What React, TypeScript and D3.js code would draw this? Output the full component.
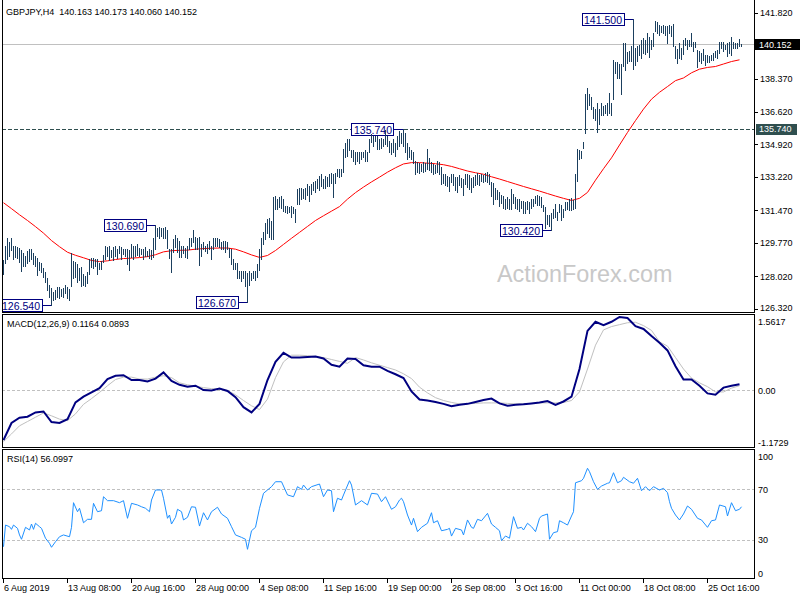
import React from 'react';
import * as d3 from 'd3';

// ---------- data ----------
const symbolTitle = 'GBPJPY,H4  140.163 140.173 140.060 140.152';
const macdTitle = 'MACD(12,26,9) 0.1164 0.0893';
const rsiTitle = 'RSI(14) 56.0997';
const watermark = 'ActionForex.com';

const barHigh = [
128.85,129.60,130.05,129.80,130.00,129.60,129.60,129.55,129.50,129.40,
129.25,129.10,129.35,129.45,129.45,129.25,129.10,129.00,128.75,128.70,
128.45,128.25,127.95,127.55,127.40,127.20,127.30,127.45,127.45,127.35,
127.40,127.55,127.45,127.35,129.25,128.80,128.75,128.65,128.45,128.50,
128.15,128.05,128.25,128.90,129.00,129.00,128.95,128.90,128.70,128.80,
129.15,129.60,129.55,129.60,129.40,129.55,129.60,129.45,129.60,129.55,
129.45,129.45,129.45,129.40,129.70,129.60,129.60,129.70,129.50,129.45,
129.45,129.55,129.35,129.45,129.40,130.05,130.69,130.55,130.60,130.55,
130.55,130.60,130.45,129.45,129.45,129.95,130.20,130.00,129.85,129.60,
129.60,129.50,129.60,130.05,130.05,130.45,130.10,130.00,130.10,129.70,
129.80,129.60,129.70,129.85,129.60,130.05,130.05,130.05,129.95,129.80,
129.85,129.85,129.80,129.50,129.45,128.90,128.70,128.70,128.30,128.30,
128.30,128.30,128.20,128.30,128.20,128.30,128.30,128.65,129.45,130.05,
130.35,130.80,131.00,131.05,130.90,132.15,132.20,132.05,132.15,132.20,
132.05,131.70,131.70,131.65,131.70,131.65,131.52,132.57,132.65,132.65,
132.60,132.65,132.85,132.75,132.85,132.95,133.00,133.10,133.25,133.35,
133.10,133.25,133.20,133.35,133.45,133.35,133.45,133.61,133.61,133.61,
134.66,135.02,135.22,135.20,134.65,134.65,134.50,134.55,134.50,134.55,
134.55,134.65,134.55,135.20,135.45,135.35,135.35,135.35,135.20,135.25,
135.20,135.70,135.35,135.10,135.00,135.20,135.00,135.35,135.60,135.50,
135.74,135.50,135.00,134.80,134.65,134.55,134.05,134.00,133.95,133.90,
134.00,133.95,134.66,134.20,134.00,133.90,133.85,134.05,134.00,133.75,
133.40,133.35,133.25,133.20,133.40,133.35,133.20,133.20,133.30,133.15,
133.10,133.35,133.35,133.30,133.15,133.20,133.30,133.45,133.30,133.35,
133.30,133.45,133.50,133.35,132.95,132.90,132.65,132.55,132.45,132.30,
132.20,132.05,132.15,132.05,132.60,132.35,132.15,132.05,132.05,131.95,
131.95,131.90,131.95,131.90,132.05,132.05,132.20,132.30,132.20,132.15,
131.75,131.65,131.25,131.25,131.35,131.55,131.80,131.40,131.80,131.75,
131.55,131.90,131.90,132.05,132.10,132.00,133.40,134.70,134.65,134.60,
135.05,137.55,137.90,137.55,137.40,136.90,136.75,137.10,136.80,137.10,
136.95,137.00,137.10,137.60,137.10,139.36,139.25,139.25,139.15,139.15,
140.25,140.25,139.75,139.80,140.05,141.50,139.95,140.05,140.15,140.40,
140.50,140.40,140.75,140.55,140.40,140.75,141.40,141.35,141.15,141.10,
141.15,141.10,141.10,141.15,141.10,141.20,140.05,139.90,140.25,139.95,
140.40,140.50,140.40,140.40,140.75,140.30,140.30,139.88,139.80,139.70,
139.90,139.60,139.60,139.55,139.60,139.70,139.80,139.85,140.30,140.30,
140.30,140.15,140.25,140.30,140.55,140.30,140.25,140.25,140.45,140.17
];

const barLow = [
128.15,128.70,128.95,129.10,129.40,128.95,129.05,129.00,128.75,128.30,
128.55,128.55,128.70,128.80,128.90,128.65,128.55,128.10,128.35,128.25,
128.00,127.70,127.30,126.95,126.54,126.80,126.85,126.95,126.90,127.00,
126.95,127.15,126.90,126.80,127.50,127.95,128.00,127.70,127.85,127.50,
127.55,127.50,127.65,128.15,128.50,128.45,128.55,128.15,128.40,128.40,
128.75,128.90,129.10,128.85,129.05,128.85,129.10,129.00,129.25,128.90,
129.20,129.10,128.65,128.35,129.05,128.90,129.10,129.15,129.10,129.20,
128.90,129.10,129.10,129.00,128.95,129.05,129.45,130.15,130.05,130.15,
130.00,130.05,129.50,129.00,128.25,129.30,129.55,129.30,129.05,129.05,
129.25,129.05,129.00,129.45,129.60,129.80,129.45,129.45,128.60,129.10,
129.45,129.35,129.25,129.45,128.95,129.45,129.60,129.60,129.55,129.45,
129.45,129.30,129.45,129.05,128.65,128.40,128.40,127.95,127.95,127.80,
127.95,127.50,126.67,127.55,127.85,127.95,127.85,128.00,128.35,128.90,
129.70,129.95,130.30,130.10,129.95,129.95,131.52,131.55,131.65,131.60,
131.45,131.40,131.35,131.40,131.15,131.35,130.85,131.78,131.80,132.05,
132.10,132.05,132.30,131.95,132.35,132.55,132.45,132.65,132.55,132.75,
132.65,132.65,132.75,132.75,132.90,132.15,132.90,133.25,133.20,133.25,
133.50,134.25,134.30,134.65,134.25,134.05,133.90,134.05,133.95,134.15,
134.25,134.05,134.05,134.50,135.05,134.85,135.10,134.66,134.66,134.75,
134.85,134.92,134.85,134.50,134.40,134.50,134.30,134.66,134.85,135.00,
134.85,134.55,134.15,134.25,134.15,133.95,133.35,133.50,133.45,133.55,
133.50,133.55,133.65,133.60,133.50,133.40,133.45,133.50,133.35,132.85,
132.90,132.80,132.75,132.50,132.95,132.80,132.55,132.45,132.80,132.70,
132.30,132.85,132.70,132.60,132.45,132.70,132.80,132.85,132.80,133.00,
132.95,133.00,132.95,132.85,132.20,131.80,132.05,132.05,131.70,131.85,
131.60,131.55,131.60,131.55,131.52,131.85,131.60,131.55,131.45,131.60,
131.35,131.35,131.55,131.35,131.60,131.70,131.85,131.75,131.75,131.65,
131.45,130.55,130.75,130.65,130.42,131.05,131.10,130.95,131.40,130.95,
131.15,131.50,131.55,131.50,131.50,131.55,131.60,133.00,134.15,134.20,
134.75,135.50,136.75,137.00,136.75,136.30,136.20,135.55,136.00,136.45,
136.45,136.55,136.45,136.55,136.45,137.30,138.65,138.40,138.40,137.55,
139.05,138.80,139.20,139.30,139.30,138.85,139.10,139.30,139.60,139.45,
139.70,139.65,139.75,139.50,139.90,140.05,140.85,140.75,140.65,140.80,
140.75,140.65,140.25,140.75,140.60,140.05,139.45,139.20,139.45,139.40,
139.65,140.15,139.90,140.05,140.05,139.80,140.00,138.95,139.30,139.20,
139.35,139.10,139.25,139.25,139.35,139.35,139.50,139.45,139.70,139.95,
139.80,139.90,139.55,139.70,139.60,139.95,139.95,139.95,140.05,140.06
];

// indicator values sampled every 4 bars (bar 0, 4, 8, ...)
const sampleStep = 4;
const maValues = [
131.87,131.56,131.24,130.94,130.62,130.28,129.89,129.57,129.28,129.12,
128.99,128.85,128.79,128.83,128.90,128.95,128.97,129.00,129.05,129.15,
129.30,129.36,129.38,129.39,129.44,129.47,129.49,129.50,129.50,129.44,
129.30,129.14,129.01,129.11,129.37,129.69,130.01,130.32,130.63,130.94,
131.19,131.43,131.67,132.06,132.40,132.69,132.96,133.21,133.47,133.70,
133.90,133.97,133.97,133.94,133.91,133.86,133.77,133.65,133.53,133.44,
133.36,133.23,133.11,132.98,132.85,132.72,132.60,132.48,132.35,132.22,
132.10,131.99,132.10,132.41,133.05,133.65,134.22,134.89,135.55,136.17,
136.77,137.29,137.65,137.95,138.26,138.40,138.67,138.86,138.95,139.00,
139.13,139.26,139.35
];

const macdValues = [
-1.05,-0.69,-0.58,-0.56,-0.47,-0.45,-0.67,-0.69,-0.61,-0.26,
-0.14,-0.05,0.04,0.23,0.30,0.31,0.21,0.21,0.18,0.24,
0.37,0.19,0.11,0.07,0.09,0.00,-0.01,0.03,-0.02,-0.15,
-0.36,-0.47,-0.29,0.21,0.59,0.78,0.68,0.68,0.69,0.70,
0.66,0.53,0.49,0.66,0.65,0.52,0.49,0.49,0.40,0.33,
0.25,-0.03,-0.20,-0.22,-0.25,-0.29,-0.34,-0.31,-0.29,-0.25,
-0.21,-0.18,-0.28,-0.33,-0.31,-0.30,-0.28,-0.26,-0.23,-0.31,
-0.24,-0.14,0.44,1.24,1.43,1.36,1.43,1.53,1.51,1.34,
1.28,1.13,0.99,0.83,0.50,0.22,0.22,0.09,-0.07,-0.10,
0.05,0.09,0.12
];

const signalValues = [
-1.08,-0.92,-0.75,-0.66,-0.57,-0.48,-0.54,-0.61,-0.64,-0.50,
-0.30,-0.18,-0.05,0.09,0.22,0.27,0.27,0.23,0.23,0.27,
0.30,0.26,0.15,0.11,0.08,0.05,0.03,0.02,-0.01,-0.10,
-0.22,-0.33,-0.41,-0.19,0.26,0.59,0.73,0.73,0.72,0.70,
0.68,0.64,0.60,0.56,0.68,0.63,0.57,0.52,0.47,0.42,
0.34,0.24,0.06,-0.06,-0.16,-0.22,-0.26,-0.29,-0.29,-0.28,
-0.27,-0.27,-0.27,-0.28,-0.29,-0.29,-0.28,-0.27,-0.27,-0.27,
-0.26,-0.22,-0.04,0.44,0.94,1.26,1.33,1.37,1.41,1.42,
1.35,1.25,1.01,0.92,0.68,0.44,0.25,0.15,0.07,-0.04,
-0.04,0.04,0.09
];

const rsiBars = [
0,1,3,4,5,7,8,9,11,13,14,15,16,18,19,21,23,24,26,28,
30,33,34,35,37,38,40,42,44,45,47,49,50,52,55,58,60,62,64,67,
69,71,73,74,76,79,80,82,83,84,86,87,89,90,92,94,96,98,100,102,
104,107,109,112,114,116,119,121,122,124,126,128,130,132,134,136,139,142,145,147,
149,150,152,154,158,160,162,164,165,167,169,170,173,174,176,179,182,184,187,189,
191,194,196,198,199,200,202,204,205,207,209,212,214,215,217,219,222,223,224,226,
229,230,232,234,235,237,239,242,244,246,248,249,251,253,255,257,259,260,262,264,
266,268,269,272,273,275,277,278,280,282,284,285,286,289,290,292,293,295,297,299,
302,303,305,307,309,310,313,315,317,319,321,323,325,328,330,332,333,334,336,338,
340,342,344,347,349,352,354,356,358,361,362,364,366,368,369
];
const rsiValues = [
24.6,41.7,40.4,38.3,41.7,39.1,33.9,30.5,39.9,37.8,42.5,38.3,43.1,40.4,39.1,31.3,27.3,24.2,28.6,32.5,
33.9,32.5,39.9,59.3,52.2,54.9,43.5,46.2,46.2,58.8,52.2,53.0,64.0,60.9,60.9,59.3,60.9,47.0,58.8,57.5,
56.1,54.9,52.2,61.4,69.3,69.3,62.8,47.0,49.6,42.5,47.8,54.1,52.2,45.7,47.8,56.1,55.7,40.9,51.4,45.7,
52.2,55.7,50.4,47.0,40.4,33.9,32.0,30.5,22.6,37.2,39.9,54.9,66.7,69.3,71.9,75.8,75.8,65.4,64.0,71.9,
69.8,73.2,69.3,71.9,74.0,64.0,69.3,68.7,52.2,62.8,61.4,65.4,76.6,73.2,57.5,60.9,57.5,66.7,66.1,60.1,
64.0,54.1,56.1,61.4,62.8,60.1,49.6,41.7,47.0,36.5,39.9,43.1,51.4,43.5,45.1,37.2,38.3,39.1,33.0,39.1,
37.8,33.9,45.7,39.9,39.1,46.2,45.1,50.9,42.5,39.9,37.2,29.4,33.1,31.3,48.3,39.1,39.9,37.8,43.1,40.4,
36.5,47.0,48.8,50.4,30.5,35.7,36.5,45.1,43.5,41.7,48.8,52.2,75.0,76.6,78.5,86.4,83.7,75.8,69.8,72.4,
74.6,75.0,82.9,75.0,76.6,79.3,75.8,74.6,78.5,68.7,71.9,68.7,71.9,69.3,70.6,67.2,60.1,54.9,49.6,45.7,
50.4,56.7,54.1,47.0,45.7,39.9,45.1,45.7,57.5,56.1,48.8,59.3,53.0,54.1,56.1
];

const priceTicks = [141.82, 138.37, 136.62, 134.92, 133.22, 131.47, 129.77, 128.02, 126.32];
const priceTickLabels = ['141.820', '138.370', '136.620', '134.920', '133.220', '131.470', '129.770', '128.020', '126.320'];
const currentPrice = 140.152;
const currentPriceLabel = '140.152';
const levelPrice = 135.74;
const levelPriceLabel = '135.740';

const markerPrices = [141.5, 135.74, 130.69, 130.42, 126.54, 126.67];
const markerLabels = ['141.500', '135.740', '130.690', '130.420', '126.540', '126.670'];
const markerBars = [315, 200, 76, 274, 24, 122];

const dateBars = [0, 32, 64, 96, 128, 160, 192, 224, 256, 288, 320, 352];
const dateLabels = ['6 Aug 2019', '13 Aug 08:00', '20 Aug 16:00', '28 Aug 00:00', '4 Sep 08:00', '11 Sep 16:00',
  '19 Sep 00:00', '26 Sep 08:00', '3 Oct 16:00', '11 Oct 00:00', '18 Oct 08:00', '25 Oct 16:00'];

const macdMax = 1.5617;
const macdMin = -1.1729;
const macdAxisLabels = ['1.5617', '0.00', '-1.1729'];
const rsiLevels = [100, 70, 30, 0];
const rsiLevelLabels = ['100', '70', '30', '0'];

// ---------- layout ----------
const W = 800;
const H = 600;
const L = 2;
const R = 754;
const mainBottom = 312;
const macdTop = 314;
const macdBottom = 447;
const rsiTop = 449;
const rsiBottom = 578;
const FONT = '"Liberation Sans", Arial, sans-serif';
const barColor = '#1b3f5e';

export default function App() {
  const x = d3.scaleLinear().domain([0, 369]).range([3, 741]);
  const yP = d3.scaleLinear().domain([126.32, 141.82]).range([308.8, 12.6]);
  const yM = d3.scaleLinear().domain([macdMin, macdMax]).range([446, 315.5]);
  const yR = d3.scaleLinear().domain([0, 100]).range([578, 451]);

  const maLine = d3.line<number>().x((_, i) => x(i * sampleStep) + 0.5).y((d) => yP(d));
  const macdLine = d3.line<number>().x((_, i) => x(i * sampleStep) + 0.5).y((d) => yM(d));
  const rsiLine = d3.line<number>().x((_, i) => x(rsiBars[i]) + 0.5).y((d) => yR(d));

  const axisBaseline = (y: number, top: number, bottom: number) =>
    Math.min(Math.max(y + 3.5, top + 10.5), bottom - 1.5);

  return (
    <svg width={W} height={H} style={{ position: 'absolute', left: 0, top: 0, background: '#fff' }}
      fontFamily={FONT}>
      <rect x={0} y={0} width={W} height={H} fill="#fff" />

      <defs>
        <clipPath id="mainClip"><rect x={L + 1} y={0} width={R - L - 1} height={mainBottom} /></clipPath>
        <clipPath id="macdClip"><rect x={L + 1} y={macdTop + 1} width={R - L - 1} height={macdBottom - macdTop - 1} /></clipPath>
        <clipPath id="rsiClip"><rect x={L + 1} y={rsiTop + 1} width={R - L - 1} height={rsiBottom - rsiTop - 1} /></clipPath>
      </defs>

      {/* ---------- main panel ---------- */}
      <g clipPath="url(#mainClip)">
        <text x={497} y={282} fontSize={23.4} fill="#c8c8c8">{watermark}</text>
        <line x1={L} x2={R} y1={Math.round(yP(currentPrice)) + 0.5} y2={Math.round(yP(currentPrice)) + 0.5}
          stroke="#c0c0c0" strokeWidth={1} shapeRendering="crispEdges" />
        <line x1={L} x2={R} y1={Math.round(yP(levelPrice)) + 0.5} y2={Math.round(yP(levelPrice)) + 0.5}
          stroke="#2f4f4f" strokeWidth={1} strokeDasharray="4,2" shapeRendering="crispEdges" />
        <path d={maLine(maValues) || ''} fill="none" stroke="#ff0000" strokeWidth={1} />
        {markerPrices.map((p, i) => {
          const bx = x(markerBars[i]) + 0.5;
          const yc = Math.round(yP(p)) + 0.5;
          const x1 = bx - 10;
          const x0 = x1 - 42;
          return (
            <g key={'m' + i}>
              <line x1={x1} x2={bx} y1={yc} y2={yc} stroke="#000080" strokeWidth={1} shapeRendering="crispEdges" />
              <rect x={Math.round(x0) + 0.5} y={yc - 6} width={42} height={12} fill="#fff" stroke="#000080"
                strokeWidth={1} shapeRendering="crispEdges" />
              <text x={x0 + 21.5} y={yc + 4} fontSize={10.5} fill="#000080" textAnchor="middle">{markerLabels[i]}</text>
            </g>
          );
        })}
        {barHigh.map((h, i) => (
          <line key={'b' + i} x1={x(i) + 0.5} x2={x(i) + 0.5} y1={yP(h)} y2={yP(barLow[i]) + 1}
            stroke={barColor} strokeWidth={1} shapeRendering="crispEdges" />
        ))}
      </g>
      <text x={6} y={15} fontSize={9} fill="#000" style={{ whiteSpace: 'pre' }}>{symbolTitle}</text>

      {/* ---------- MACD panel ---------- */}
      <g clipPath="url(#macdClip)">
        <line x1={L} x2={R} y1={Math.round(yM(0)) + 0.5} y2={Math.round(yM(0)) + 0.5} stroke="#c0c0c0"
          strokeDasharray="3,2" shapeRendering="crispEdges" />
        <path d={macdLine(signalValues) || ''} fill="none" stroke="#c0c0c0" strokeWidth={1} />
        <path d={macdLine(macdValues) || ''} fill="none" stroke="#000080" strokeWidth={2} />
      </g>
      <text x={7} y={327} fontSize={9} fill="#000">{macdTitle}</text>

      {/* ---------- RSI panel ---------- */}
      <g clipPath="url(#rsiClip)">
        {[70, 30].map((v) => (
          <line key={'r' + v} x1={L} x2={R} y1={Math.round(yR(v)) + 0.5} y2={Math.round(yR(v)) + 0.5}
            stroke="#c0c0c0" strokeDasharray="3,2" shapeRendering="crispEdges" />
        ))}
        <path d={rsiLine(rsiValues) || ''} fill="none" stroke="#1e90ff" strokeWidth={1} />
      </g>
      <text x={7} y={462} fontSize={9} fill="#000">{rsiTitle}</text>

      {/* ---------- frames ---------- */}
      <g stroke="#000" strokeWidth={1} fill="none" shapeRendering="crispEdges">
        <path d={`M${L + 0.5},0 V${mainBottom + 0.5} H${R + 0.5} V0`} />
        <rect x={L + 0.5} y={macdTop + 0.5} width={R - L} height={macdBottom - macdTop} />
        <rect x={L + 0.5} y={rsiTop + 0.5} width={R - L} height={rsiBottom - rsiTop} />
      </g>

      {/* ---------- price axis ---------- */}
      {priceTicks.map((p, i) => {
        const y = Math.round(yP(p)) + 0.5;
        return (
          <g key={'pt' + i}>
            <line x1={R} x2={R + 4} y1={y} y2={y} stroke="#000" shapeRendering="crispEdges" />
            <text x={760} y={axisBaseline(yP(p), 0, mainBottom)} fontSize={9} fill="#000">{priceTickLabels[i]}</text>
          </g>
        );
      })}
      <rect x={R + 1} y={Math.round(yP(currentPrice)) - 5} width={W - R - 1} height={11} fill="#000" />
      <text x={759} y={yP(currentPrice) + 3.5} fontSize={9} fill="#fff">{currentPriceLabel}</text>
      <rect x={R + 2} y={Math.round(yP(levelPrice)) - 5} width={41} height={11} fill="#2f4f4f" />
      <text x={759} y={yP(levelPrice) + 3.5} fontSize={9} fill="#fff">{levelPriceLabel}</text>

      {/* ---------- MACD axis ---------- */}
      {[macdMax, 0, macdMin].map((v, i) => (
        <text key={'ma' + i} x={758} y={axisBaseline(yM(v), macdTop, macdBottom)} fontSize={9} fill="#000">
          {macdAxisLabels[i]}
        </text>
      ))}

      {/* ---------- RSI axis ---------- */}
      {rsiLevels.map((v, i) => (
        <text key={'ra' + i} x={758} y={axisBaseline(yR(v), rsiTop, rsiBottom)} fontSize={9} fill="#000">
          {rsiLevelLabels[i]}
        </text>
      ))}

      {/* ---------- time axis ---------- */}
      {dateBars.map((b, i) => {
        const tx = Math.round(x(b)) + 0.5;
        return (
          <g key={'d' + i}>
            <line x1={tx} x2={tx} y1={rsiBottom} y2={rsiBottom + 5} stroke="#000" shapeRendering="crispEdges" />
            <text x={tx + 0.5} y={591} fontSize={9} fill="#000">{dateLabels[i]}</text>
          </g>
        );
      })}
    </svg>
  );
}
